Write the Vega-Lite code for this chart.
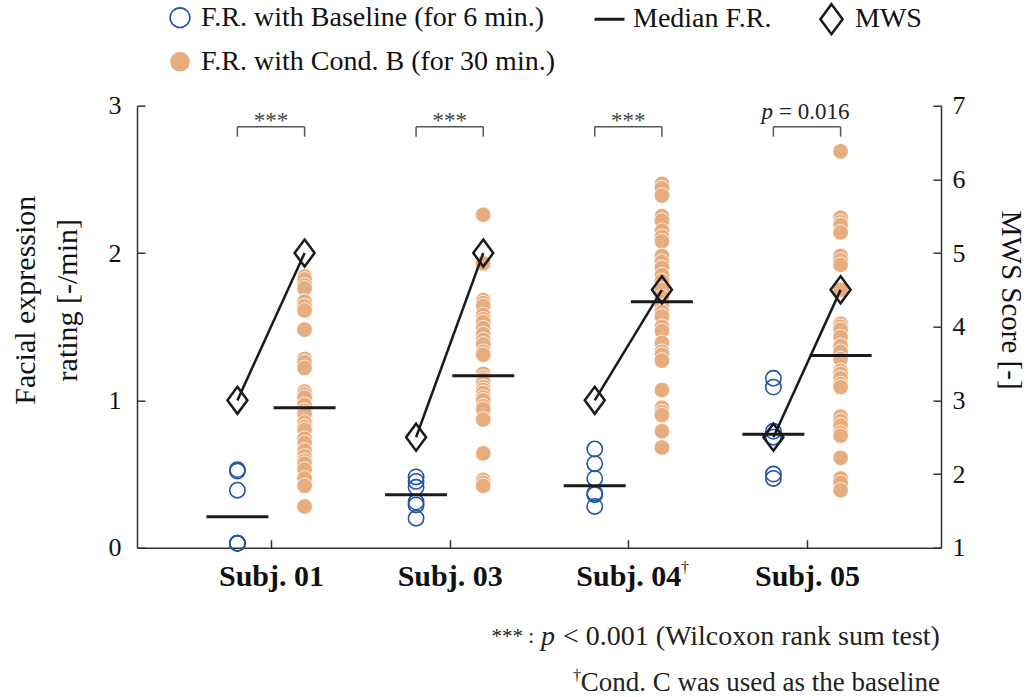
{
  "$schema": "https://vega.github.io/schema/vega-lite/v6.json",
  "width": 804,
  "height": 442,
  "autosize": "none",
  "padding": {"left": 137, "top": 105.7, "right": 94, "bottom": 149.3},
  "config": {
    "view": {"stroke": null},
    "font": "Liberation Serif",
    "axis": {"labelFont": "Liberation Serif", "titleFont": "Liberation Serif", "domainColor": "#333333", "tickColor": "#333333", "domainWidth": 1.5, "tickWidth": 1.5, "labelColor": "#111111", "titleColor": "#111111", "titleFontWeight": "normal", "grid": false, "tickSize": -8},
    "legend": {"labelFont": "Liberation Serif", "labelFontSize": 28, "labelColor": "#111111", "labelLimit": 0, "labelOffset": 7, "padding": 0, "title": null, "orient": "none"},
    "text": {"font": "Liberation Serif"}
  },
  "datasets": {
    "fr": [
      {"s":"01","x":0.812,"cond":"base","v":0.53},{"s":"01","x":0.812,"cond":"base","v":0.52},{"s":"01","x":0.812,"cond":"base","v":0.39},{"s":"01","x":0.812,"cond":"base","v":0.03},{"s":"01","x":0.812,"cond":"base","v":0.03},{"s":"01","x":0.812,"cond":"base","v":0.03},
      {"s":"01","x":1.188,"cond":"condB","v":1.84},{"s":"01","x":1.188,"cond":"condB","v":1.82},{"s":"01","x":1.188,"cond":"condB","v":1.78},{"s":"01","x":1.188,"cond":"condB","v":1.76},{"s":"01","x":1.188,"cond":"condB","v":1.67},{"s":"01","x":1.188,"cond":"condB","v":1.64},{"s":"01","x":1.188,"cond":"condB","v":1.61},{"s":"01","x":1.188,"cond":"condB","v":1.48},{"s":"01","x":1.188,"cond":"condB","v":1.28},{"s":"01","x":1.188,"cond":"condB","v":1.26},{"s":"01","x":1.188,"cond":"condB","v":1.22},{"s":"01","x":1.188,"cond":"condB","v":1.06},{"s":"01","x":1.188,"cond":"condB","v":1.04},{"s":"01","x":1.188,"cond":"condB","v":1.02},{"s":"01","x":1.188,"cond":"condB","v":0.97},{"s":"01","x":1.188,"cond":"condB","v":0.93},{"s":"01","x":1.188,"cond":"condB","v":0.91},{"s":"01","x":1.188,"cond":"condB","v":0.85},{"s":"01","x":1.188,"cond":"condB","v":0.82},{"s":"01","x":1.188,"cond":"condB","v":0.80},{"s":"01","x":1.188,"cond":"condB","v":0.74},{"s":"01","x":1.188,"cond":"condB","v":0.71},{"s":"01","x":1.188,"cond":"condB","v":0.66},{"s":"01","x":1.188,"cond":"condB","v":0.62},{"s":"01","x":1.188,"cond":"condB","v":0.59},{"s":"01","x":1.188,"cond":"condB","v":0.57},{"s":"01","x":1.188,"cond":"condB","v":0.53},{"s":"01","x":1.188,"cond":"condB","v":0.47},{"s":"01","x":1.188,"cond":"condB","v":0.42},{"s":"01","x":1.188,"cond":"condB","v":0.28},
      {"s":"03","x":1.812,"cond":"base","v":0.48},{"s":"03","x":1.812,"cond":"base","v":0.45},{"s":"03","x":1.812,"cond":"base","v":0.41},{"s":"03","x":1.812,"cond":"base","v":0.31},{"s":"03","x":1.812,"cond":"base","v":0.29},{"s":"03","x":1.812,"cond":"base","v":0.20},
      {"s":"03","x":2.188,"cond":"condB","v":2.26},{"s":"03","x":2.188,"cond":"condB","v":1.93},{"s":"03","x":2.188,"cond":"condB","v":1.68},{"s":"03","x":2.188,"cond":"condB","v":1.66},{"s":"03","x":2.188,"cond":"condB","v":1.64},{"s":"03","x":2.188,"cond":"condB","v":1.58},{"s":"03","x":2.188,"cond":"condB","v":1.55},{"s":"03","x":2.188,"cond":"condB","v":1.53},{"s":"03","x":2.188,"cond":"condB","v":1.49},{"s":"03","x":2.188,"cond":"condB","v":1.45},{"s":"03","x":2.188,"cond":"condB","v":1.41},{"s":"03","x":2.188,"cond":"condB","v":1.38},{"s":"03","x":2.188,"cond":"condB","v":1.33},{"s":"03","x":2.188,"cond":"condB","v":1.31},{"s":"03","x":2.188,"cond":"condB","v":1.18},{"s":"03","x":2.188,"cond":"condB","v":1.155},{"s":"03","x":2.188,"cond":"condB","v":1.14},{"s":"03","x":2.188,"cond":"condB","v":1.12},{"s":"03","x":2.188,"cond":"condB","v":1.09},{"s":"03","x":2.188,"cond":"condB","v":1.07},{"s":"03","x":2.188,"cond":"condB","v":1.05},{"s":"03","x":2.188,"cond":"condB","v":1.02},{"s":"03","x":2.188,"cond":"condB","v":1.00},{"s":"03","x":2.188,"cond":"condB","v":0.96},{"s":"03","x":2.188,"cond":"condB","v":0.94},{"s":"03","x":2.188,"cond":"condB","v":0.87},{"s":"03","x":2.188,"cond":"condB","v":0.64},{"s":"03","x":2.188,"cond":"condB","v":0.46},{"s":"03","x":2.188,"cond":"condB","v":0.44},{"s":"03","x":2.188,"cond":"condB","v":0.42},
      {"s":"04","x":2.812,"cond":"base","v":0.67},{"s":"04","x":2.812,"cond":"base","v":0.57},{"s":"04","x":2.812,"cond":"base","v":0.47},{"s":"04","x":2.812,"cond":"base","v":0.37},{"s":"04","x":2.812,"cond":"base","v":0.36},{"s":"04","x":2.812,"cond":"base","v":0.28},
      {"s":"04","x":3.188,"cond":"condB","v":2.47},{"s":"04","x":3.188,"cond":"condB","v":2.44},{"s":"04","x":3.188,"cond":"condB","v":2.39},{"s":"04","x":3.188,"cond":"condB","v":2.25},{"s":"04","x":3.188,"cond":"condB","v":2.22},{"s":"04","x":3.188,"cond":"condB","v":2.15},{"s":"04","x":3.188,"cond":"condB","v":2.11},{"s":"04","x":3.188,"cond":"condB","v":2.08},{"s":"04","x":3.188,"cond":"condB","v":1.98},{"s":"04","x":3.188,"cond":"condB","v":1.94},{"s":"04","x":3.188,"cond":"condB","v":1.90},{"s":"04","x":3.188,"cond":"condB","v":1.85},{"s":"04","x":3.188,"cond":"condB","v":1.81},{"s":"04","x":3.188,"cond":"condB","v":1.75},{"s":"04","x":3.188,"cond":"condB","v":1.70},{"s":"04","x":3.188,"cond":"condB","v":1.64},{"s":"04","x":3.188,"cond":"condB","v":1.60},{"s":"04","x":3.188,"cond":"condB","v":1.57},{"s":"04","x":3.188,"cond":"condB","v":1.50},{"s":"04","x":3.188,"cond":"condB","v":1.47},{"s":"04","x":3.188,"cond":"condB","v":1.39},{"s":"04","x":3.188,"cond":"condB","v":1.33},{"s":"04","x":3.188,"cond":"condB","v":1.31},{"s":"04","x":3.188,"cond":"condB","v":1.27},{"s":"04","x":3.188,"cond":"condB","v":1.07},{"s":"04","x":3.188,"cond":"condB","v":0.95},{"s":"04","x":3.188,"cond":"condB","v":0.92},{"s":"04","x":3.188,"cond":"condB","v":0.90},{"s":"04","x":3.188,"cond":"condB","v":0.79},{"s":"04","x":3.188,"cond":"condB","v":0.68},
      {"s":"05","x":3.812,"cond":"base","v":1.15},{"s":"05","x":3.812,"cond":"base","v":1.09},{"s":"05","x":3.812,"cond":"base","v":0.79},{"s":"05","x":3.812,"cond":"base","v":0.75},{"s":"05","x":3.812,"cond":"base","v":0.50},{"s":"05","x":3.812,"cond":"base","v":0.47},
      {"s":"05","x":4.188,"cond":"condB","v":2.69},{"s":"05","x":4.188,"cond":"condB","v":2.24},{"s":"05","x":4.188,"cond":"condB","v":2.21},{"s":"05","x":4.188,"cond":"condB","v":2.19},{"s":"05","x":4.188,"cond":"condB","v":2.14},{"s":"05","x":4.188,"cond":"condB","v":1.98},{"s":"05","x":4.188,"cond":"condB","v":1.95},{"s":"05","x":4.188,"cond":"condB","v":1.92},{"s":"05","x":4.188,"cond":"condB","v":1.75},{"s":"05","x":4.188,"cond":"condB","v":1.52},{"s":"05","x":4.188,"cond":"condB","v":1.50},{"s":"05","x":4.188,"cond":"condB","v":1.48},{"s":"05","x":4.188,"cond":"condB","v":1.43},{"s":"05","x":4.188,"cond":"condB","v":1.37},{"s":"05","x":4.188,"cond":"condB","v":1.33},{"s":"05","x":4.188,"cond":"condB","v":1.28},{"s":"05","x":4.188,"cond":"condB","v":1.20},{"s":"05","x":4.188,"cond":"condB","v":1.18},{"s":"05","x":4.188,"cond":"condB","v":1.15},{"s":"05","x":4.188,"cond":"condB","v":1.11},{"s":"05","x":4.188,"cond":"condB","v":1.09},{"s":"05","x":4.188,"cond":"condB","v":0.89},{"s":"05","x":4.188,"cond":"condB","v":0.86},{"s":"05","x":4.188,"cond":"condB","v":0.83},{"s":"05","x":4.188,"cond":"condB","v":0.78},{"s":"05","x":4.188,"cond":"condB","v":0.76},{"s":"05","x":4.188,"cond":"condB","v":0.61},{"s":"05","x":4.188,"cond":"condB","v":0.47},{"s":"05","x":4.188,"cond":"condB","v":0.44},{"s":"05","x":4.188,"cond":"condB","v":0.39}
    ],
    "mws": [
      {"s":"01","x":0.812,"m":3},{"s":"01","x":1.188,"m":5},
      {"s":"03","x":1.812,"m":2.5},{"s":"03","x":2.188,"m":5},
      {"s":"04","x":2.812,"m":3},{"s":"04","x":3.188,"m":4.5},
      {"s":"05","x":3.812,"m":2.5},{"s":"05","x":4.188,"m":4.5}
    ],
    "brk": [
      {"x":0.812,"xr":1.188,"v":2.857},
      {"x":1.812,"xr":2.188,"v":2.857},
      {"x":2.812,"xr":3.188,"v":2.857},
      {"x":3.812,"xr":4.188,"v":2.857}
    ],
    "legs": [
      {"x":0.812,"v":2.857,"vb":2.79},{"x":1.188,"v":2.857,"vb":2.79},
      {"x":1.812,"v":2.857,"vb":2.79},{"x":2.188,"v":2.857,"vb":2.79},
      {"x":2.812,"v":2.857,"vb":2.79},{"x":3.188,"v":2.857,"vb":2.79},
      {"x":3.812,"v":2.857,"vb":2.79},{"x":4.188,"v":2.857,"vb":2.79}
    ],
    "stars": [{"x":1,"v":2.849},{"x":2,"v":2.849},{"x":3,"v":2.849}],
    "notes": [
      {"id":"pi","x":3.81,"v":2.957,"t":"p"},
      {"id":"pr","x":3.843,"v":2.957,"t":"= 0.016"},
      {"id":"f1a","x":2.472,"v":-0.606,"t":"*** :"},
      {"id":"f1b","x":2.511,"v":-0.606,"t":"p"},
      {"id":"f1c","x":4.744,"v":-0.606,"t":"< 0.001 (Wilcoxon rank sum test)"},
      {"id":"f2a","x":2.69,"v":-0.87,"t":"†"},
      {"id":"f2b","x":4.744,"v":-0.918,"t":"Cond. C was used as the baseline"},
      {"id":"dg","x":3.295,"v":-0.14,"t":"†"}
    ]
  },
  "encoding": {
    "x": {"field": "x", "type": "quantitative", "scale": {"domain": [0.25, 4.75]},
      "axis": {"orient": "bottom", "values": [1, 2, 3, 4], "title": null, "labelExpr": "datum.value == 1 ? 'Subj. 01' : datum.value == 2 ? 'Subj. 03' : datum.value == 3 ? 'Subj. 04' : 'Subj. 05'", "labelFontSize": 30, "labelFontWeight": "bold", "labelPadding": 22, "labelBaseline": "top"}}
  },
  "layer": [
    {
      "encoding": {"y": {"field": "v", "type": "quantitative", "scale": {"domain": [0, 3]},
        "axis": {"orient": "left", "values": [0, 1, 2, 3], "format": "d", "title": ["Facial expression", "rating [-/min]"], "labelFontSize": 26, "labelPadding": 24, "titleFontSize": 30, "titleLineHeight": 42, "titlePadding": 26, "titleY": 194}}},
      "layer": [
        {"data": {"name": "fr"}, "transform": [{"filter": "datum.cond == 'base'"}],
         "mark": {"type": "point", "filled": false, "size": 235, "strokeWidth": 1.6, "opacity": 1},
         "encoding": {"color": {"field": "cond", "type": "nominal",
           "scale": {"domain": ["base"], "range": ["#2155A6"]},
           "legend": {"orient": "none", "legendX": 29, "legendY": -102, "symbolSize": 390, "symbolStrokeWidth": 1.6, "symbolType": "circle",
             "labelExpr": "'F.R. with Baseline (for 6 min.)'"}}}},
        {"data": {"name": "fr"}, "transform": [{"filter": "datum.cond == 'condB'"}],
         "mark": {"type": "circle", "size": 245, "opacity": 1, "stroke": "white", "strokeWidth": 0.8},
         "encoding": {"fill": {"field": "cond", "type": "nominal",
           "scale": {"domain": ["condB"], "range": ["#E8AD7F"]},
           "legend": {"orient": "none", "legendX": 29, "legendY": -58, "symbolSize": 390, "symbolStrokeWidth": 0, "symbolType": "circle",
             "labelExpr": "'F.R. with Cond. B (for 30 min.)'"}}}},
        {"data": {"name": "fr"},
         "transform": [{"aggregate": [{"op": "median", "field": "v", "as": "v"}], "groupby": ["x"]}],
         "mark": {"type": "rule", "xOffset": -31, "x2Offset": 31, "strokeWidth": 3, "color": "#1a1a1a"},
         "encoding": {"x2": {"field": "x"},
           "strokeDash": {"datum": "Median F.R.", "type": "nominal", "scale": {"domain": ["Median F.R."], "range": [[1, 0]]},
             "legend": {"orient": "none", "legendX": 456, "legendY": -103, "symbolSize": 900, "symbolStrokeWidth": 3, "symbolStrokeColor": "#1a1a1a", "symbolType": "stroke"}}}},
        {"data": {"name": "brk"}, "mark": {"type": "rule", "color": "#555555", "strokeWidth": 1.5},
         "encoding": {"x2": {"field": "xr"}}},
        {"data": {"name": "legs"}, "mark": {"type": "rule", "color": "#555555", "strokeWidth": 1.5},
         "encoding": {"y2": {"field": "vb"}}},
        {"data": {"name": "stars"}, "mark": {"type": "text", "text": "***", "fontSize": 23, "color": "#444444", "align": "center", "baseline": "alphabetic"}},
        {"data": {"name": "notes"}, "transform": [{"filter": "datum.id == 'pi'"}],
         "mark": {"type": "text", "fontSize": 23, "fontStyle": "italic", "color": "#222222", "align": "right", "baseline": "middle"},
         "encoding": {"text": {"field": "t"}}},
        {"data": {"name": "notes"}, "transform": [{"filter": "datum.id == 'pr'"}],
         "mark": {"type": "text", "fontSize": 23, "color": "#222222", "align": "left", "baseline": "middle"},
         "encoding": {"text": {"field": "t"}}},
        {"data": {"name": "notes"}, "transform": [{"filter": "datum.id == 'f1a'"}],
         "mark": {"type": "text", "fontSize": 21, "color": "#222222", "align": "right", "baseline": "middle"},
         "encoding": {"text": {"field": "t"}}},
        {"data": {"name": "notes"}, "transform": [{"filter": "datum.id == 'f1c'"}],
         "mark": {"type": "text", "fontSize": 28, "color": "#222222", "align": "right", "baseline": "middle"},
         "encoding": {"text": {"field": "t"}}},
        {"data": {"name": "notes"}, "transform": [{"filter": "datum.id == 'f2b'"}],
         "mark": {"type": "text", "fontSize": 27, "color": "#222222", "align": "right", "baseline": "middle"},
         "encoding": {"text": {"field": "t"}}},
        {"data": {"name": "notes"}, "transform": [{"filter": "datum.id == 'f1b'"}],
         "mark": {"type": "text", "fontSize": 28, "fontStyle": "italic", "color": "#222222", "align": "left", "baseline": "middle"},
         "encoding": {"text": {"field": "t"}}},
        {"data": {"name": "notes"}, "transform": [{"filter": "datum.id == 'f2a' || datum.id == 'dg'"}],
         "mark": {"type": "text", "fontSize": 16, "color": "#222222", "align": "left", "baseline": "middle"},
         "encoding": {"text": {"field": "t"}}}
      ]
    },
    {
      "data": {"name": "mws"},
      "encoding": {"y": {"field": "m", "type": "quantitative", "scale": {"domain": [1, 7]},
        "axis": {"orient": "right", "values": [1, 2, 3, 4, 5, 6, 7], "title": "MWS Score [-]", "labelFontSize": 26, "labelPadding": 19, "titleFontSize": 29, "titlePadding": 30, "titleY": 194}}},
      "layer": [
        {"mark": {"type": "line", "color": "#1a1a1a", "strokeWidth": 2.5}, "encoding": {"detail": {"field": "s"}}},
        {"mark": {"type": "point", "filled": false, "size": 729, "strokeWidth": 2.5, "color": "#1a1a1a", "opacity": 1},
         "encoding": {"shape": {"datum": "MWS", "type": "nominal", "scale": {"domain": ["MWS"], "range": ["M0,-1L0.74,0L0,1L-0.74,0Z"]},
           "legend": {"orient": "none", "legendX": 678, "legendY": -103, "symbolSize": 900, "symbolStrokeWidth": 2.5, "symbolStrokeColor": "#1a1a1a", "symbolFillColor": "transparent"}}}}
      ]
    }
  ],
  "resolve": {"scale": {"y": "independent"}}
}
